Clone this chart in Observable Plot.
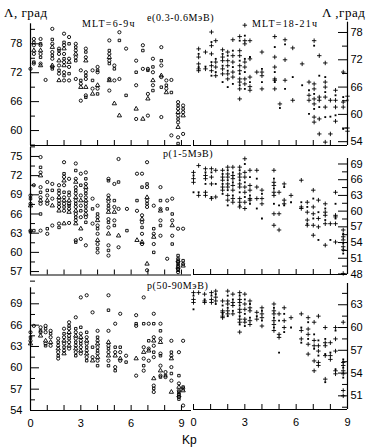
<!DOCTYPE html>
<html><head><meta charset="utf-8">
<script src="https://cdn.jsdelivr.net/npm/d3@7"></script>
<script src="https://cdn.jsdelivr.net/npm/@observablehq/plot@0.6"></script>
<style>
body{margin:0;background:#fff;}
#wrap{position:relative;width:370px;height:448px;overflow:hidden;}
#wrap svg{position:absolute;left:0;top:0;}
.lab{position:absolute;white-space:nowrap;color:#000;line-height:1;font-family:"Liberation Serif","Times New Roman",serif;}
</style></head><body><div id="wrap"></div>
<script>
// ---- data: [Kp, [invariant latitude values, deg]] ----
const eMLT6 = [
 [0,[72.8]],
 [0.2,[79.0,78.3,77.7,76.6,75.9,74.2,73.9]],
 [0.6,[79.0,78.0,77.7,76.6,75.9,75.2,73.9,73.5]],
 [0.9,[70.5]],
 [1.3,[81.1,78.9,78.0,77.3,76.3,75.6,74.9,73.5,73.2,72.8]],
 [1.7,[77.0,76.6,75.9,74.5,73.5,72.5,71.8,70.4]],
 [2.0,[80.1,78.3,77.7,77.0,75.9,74.9,74.2,73.5,72.1,71.4,70.4]],
 [2.3,[79.4,78.0,74.9,74.2,73.2,71.8,70.4]],
 [2.7,[78.0,77.3,76.6,75.9,75.2,74.5,70.7]],
 [3.0,[72.5,70.4,69.7,69.0,66.2]],
 [3.3,[77.0,76.3,75.2,74.5,72.1,71.4,70.7,69.0,67.3,66.9]],
 [3.7,[72.5,70.4,68.7,67.6]],
 [4.0,[73.2,72.5,72.1,69.4,68.7,67.6]],
 [4.7,[78.7,76.6,75.9,75.2,74.5,73.9,70.7,70.4,68.3]],
 [5.0,[73.5,72.8,70.4,65.6]],
 [5.3,[80.4,78.7,70.7,63.1]],
 [5.7,[77.0,67.3]],
 [6.3,[74.5,72.1,69.4,64.5,62.4]],
 [6.7,[77.7,76.6,72.8,62.4]],
 [7.0,[72.8,72.5,67.6,66.6,63.1]],
 [7.3,[74.9,73.2,72.1,70.4,69.4,68.3]],
 [7.8,[77.3,74.5,73.5,71.4,71.1,69.0,62.8]],
 [8.1,[70.4,69.4,68.7,67.9]],
 [8.4,[70.5,67.9,59.0]],
 [8.8,[65.9,65.2,64.5,63.8,63.1,62.4,61.7,60.7,58.6,57.3]],
 [9.1,[65.2,64.5,63.8,63.1,59.3]]
];
const eMLT18 = [
 [0.3,[74.4,73.3,72.6,71.1,70.4,70.0,69.6]],
 [0.7,[73.7,70.5,70.0]],
 [1.05,[78.1,75.9,75.1,73.3,71.5,70.7,69.6,68.5]],
 [1.3,[76.2,72.2,71.5,70.4,69.3,68.5]],
 [1.7,[74.2,73.3,72.6,71.8,70.7,70.0,68.9,67.1]],
 [2.0,[73.7,72.9,71.8,70.7,69.6,68.9,67.8,66.0]],
 [2.3,[76.4,74.0,72.9,71.5,70.4,69.3,68.2,66.7]],
 [2.7,[77.1,76.2,74.0,72.9,71.8,70.7,69.6,68.9,67.8,67.1,66.4,65.6,63.4]],
 [3.0,[79.6,77.3,76.2,75.5,72.2,71.5,70.4,69.3,67.8,66.7,65.6]],
 [3.3,[76.2,72.6,72.2,68.2,67.1,66.1,65.3]],
 [3.7,[69.3]],
 [4.0,[73.7,70.0,69.3,68.5,67.1,65.6]],
 [4.75,[77.1,74.8,72.6,70.4,69.3,67.8,67.5,67.1,65.6]],
 [5.05,[62.3,61.4]],
 [5.35,[76.4,75.4,72.0,67.5,65.6]],
 [5.8,[74.6,68.2,63.1]],
 [6.35,[71.1,66.4]],
 [6.75,[67.1,65.3,64.2,63.1,60.1]],
 [7.05,[76.2,75.1,66.7,65.6,64.5,63.4,62.3,61.2,59.4,58.3]],
 [7.35,[72.9,68.5,63.8,63.1,61.6,59.0,55.7]],
 [7.7,[71.3,68.2,67.1,66.0,64.9,63.8,61.6,59.4,53.9]],
 [8.0,[63.1,59.5,55.7]],
 [8.3,[65.3,64.2,63.1,61.6,59.8,58.5]],
 [8.75,[69.3,63.8,62.7,61.6,56.8]],
 [9.0,[64.0,63.1,57.0,56.3]]
];
const p1MLT6 = [
 [0.0,[68.9,68.4,67.6,67.3,63.4,63.2]],
 [0.2,[70.5,63.4]],
 [0.6,[74.9,73.3,72.5,72.0,70.2,69.4,68.6,68.1,67.6,66.0,63.4]],
 [1.0,[71.0,69.7,68.9,68.1,67.6,63.7,62.9]],
 [1.3,[70.7,69.7,68.4,67.3,64.2]],
 [1.7,[70.5,69.7,69.2,68.6,68.1,67.6,67.1,66.5,64.5,63.9]],
 [2.0,[74.1,72.3,71.8,71.2,70.5,69.4,68.6,68.1,67.6,67.1,66.5,64.5]],
 [2.3,[71.5,69.4,68.9,68.1,67.6,67.3,66.8,66.3,64.6]],
 [2.7,[73.9,72.8,71.5,71.0,70.2,69.7,69.2,68.6,68.1,67.6,67.1,66.5,66.0,65.5,65.0,64.5,61.9,61.6]],
 [3.0,[72.3,70.5,68.9,68.1,67.3,66.5,65.5,63.7,62.1]],
 [3.3,[72.5,71.5,70.7,70.2,69.7,69.2,68.6,68.1,67.6,67.1,66.5,66.0,65.5,64.7,61.1]],
 [3.7,[68.4,66.8,64.5]],
 [4.0,[67.3,66.0,65.5,65.0,64.2,63.7,62.9,61.9,61.3,60.6,60.0]],
 [4.65,[71.5,71.2,68.9,68.4,67.9,67.3,66.8,66.3,65.2,64.7,63.9,62.9,61.1,60.3,59.5]],
 [5.0,[70.7,68.1,67.1,66.3,65.0,64.2]],
 [5.25,[74.6,71.0,66.8,62.6,60.8]],
 [5.75,[66.8,63.4]],
 [6.35,[72.3,68.1,66.5,61.9]],
 [6.65,[72.3,70.2,65.8,65.2,64.7,63.9,62.9,61.6,61.3]],
 [6.95,[74.1,70.7,70.2,68.6,68.1,67.6,67.1,58.2,57.2]],
 [7.35,[67.3,63.7,62.9,62.4,61.3,60.0]],
 [7.75,[70.2,68.1,66.8,66.5,65.0,64.2,62.6]],
 [8.15,[68.1,66.8,59.0]],
 [8.45,[68.4,66.0,65.0,64.2,62.6,61.3]],
 [8.8,[63.7,59.5,59.0,58.7,58.5,58.2,57.9,57.7,57.4,57.2,56.9]],
 [9.1,[63.7,58.7,58.2,57.9]]
];
const p1MLT18 = [
 [0.0,[67.4,66.8,66.2,65.5,63.6]],
 [0.3,[68.7,63.6,63.0]],
 [0.7,[68.1,67.4,66.8,66.2,65.2,63.6,63.0]],
 [1.05,[68.1,67.4,66.5,65.2,62.7,62.4]],
 [1.3,[67.8,65.2,62.7]],
 [1.7,[67.8,67.1,66.5,65.9,65.2,64.6,64.0,63.3]],
 [2.0,[68.4,67.8,67.1,66.5,65.9,65.2,64.6,64.0,63.0,62.1,61.1]],
 [2.3,[68.4,67.4,66.8,66.2,65.5,64.9,64.0,63.0,62.4,61.7]],
 [2.7,[68.4,67.8,67.1,66.5,65.9,65.2,64.6,63.6,62.4,61.7,61.1,60.8]],
 [3.0,[70.0,69.0,67.4,66.5,65.5,64.6,63.6,62.7,61.7,60.5]],
 [3.3,[67.8,66.5,64.9,64.0,63.0,62.4,62.1,61.4]],
 [3.7,[67.8,66.2,64.6,62.4,60.5]],
 [4.0,[64.0,63.3,62.4,61.4,58.6]],
 [4.7,[67.8,66.2,65.5,64.9,64.3,63.6,63.0,61.4,59.5,57.3]],
 [5.0,[63.6,61.1,59.5,56.4]],
 [5.3,[65.2,64.6,62.1,61.4,61.1]],
 [5.7,[63.0,61.7]],
 [6.3,[65.9,61.7,60.8,60.5]],
 [6.65,[61.7,60.8,59.8,58.3,57.6,57.3]],
 [7.0,[64.0,62.4,60.8,59.5,58.6,57.3,55.4]],
 [7.3,[62.1,59.8,58.6,57.0,54.5]],
 [7.7,[61.4,60.5,59.8,59.2,58.3,57.6,53.5]],
 [8.0,[57.6,54.5]],
 [8.3,[63.6,61.4,59.2,58.9,58.6,57.6,54.1]],
 [8.75,[56.4,55.7,55.1,54.5,53.8,53.2,52.6,51.9,48.1]]
];
const p50MLT6 = [
 [0.0,[65.0,64.3,63.8,63.4]],
 [0.2,[65.9]],
 [0.6,[65.7,65.2,65.0,64.5]],
 [0.9,[65.9,65.5,65.0,63.8,63.4,63.1]],
 [1.2,[65.2,64.8,64.3,63.6,63.1]],
 [1.65,[64.1,63.6,63.1,62.7,62.2,61.7,61.3]],
 [2.0,[65.5,64.8,64.3,63.8,63.4,62.9,62.4,62.0]],
 [2.3,[66.4,65.9,65.5,65.0,64.5,64.1,63.6,63.1,62.7]],
 [2.7,[67.1,65.5,65.0,64.5,64.1,63.6,63.1,62.7,62.2,61.7]],
 [3.0,[69.9,65.7,64.8,64.3,63.8,63.4,62.9,62.4,62.0]],
 [3.35,[70.2,65.0,64.3,63.8,63.4,62.9,62.4,62.0,61.5,61.0]],
 [3.7,[67.8,62.9,61.5,61.0]],
 [4.0,[65.2,64.3,63.8,63.4,62.9,62.4,62.0,61.5,61.0,60.3]],
 [4.65,[70.2,68.1,65.2,63.6,63.1,62.7,62.2,61.7,61.0,60.3]],
 [5.05,[66.2,62.9,62.2,61.7,60.1,59.6]],
 [5.35,[67.6,62.9,62.2,61.3,61.0]],
 [5.7,[61.7,60.8]],
 [6.3,[67.4,66.2,65.9,61.3,58.9]],
 [6.75,[69.9,66.2,62.9,62.2,61.3,60.3,59.6]],
 [7.05,[66.2,63.8,62.7,62.4,61.0]],
 [7.35,[67.6,66.2,64.3,63.8,63.1,62.2,61.5,58.5,57.5,57.1,56.6]],
 [7.75,[66.2,65.2,64.1,63.6,62.0,61.7,60.3,59.6,58.9,58.7]],
 [8.05,[59.4,58.9,58.7]],
 [8.4,[63.8,62.2,61.7,61.3,60.1,59.2,58.2,56.6]],
 [8.85,[62.2,58.9,57.8,57.3,56.8,56.6,56.3,56.1,55.9,55.6]],
 [9.1,[63.8,57.3,57.1,56.8,54.7]]
];
const p50MLT18 = [
 [0.0,[64.6,64.2,63.7,63.3,62.4]],
 [0.3,[64.6]],
 [0.65,[64.4,63.7,63.5,63.3]],
 [1.05,[64.6,64.2,63.7,63.3]],
 [1.3,[64.8,64.4,64.0,63.5,63.1]],
 [1.7,[63.5,62.9,62.2,62.0,61.8,61.5,61.3]],
 [2.0,[64.8,64.2,63.5,63.1,62.6,62.2,61.8,61.5]],
 [2.3,[64.4,63.7,63.3,62.9,62.2,61.8]],
 [2.7,[64.6,64.2,63.7,63.3,62.9,62.4,62.0,61.5,61.1,60.7,60.4,59.4]],
 [3.0,[64.4,63.7,63.1,62.4,61.8,61.1,60.7,60.2]],
 [3.3,[63.5,63.1,62.6,62.2,61.3,60.9,60.4]],
 [3.7,[62.0,61.5,61.1]],
 [4.0,[62.6,62.2,61.8,61.3,60.9,60.2]],
 [4.7,[63.1,62.6,62.2,61.8,61.3,60.9,60.4,60.0,59.6]],
 [5.0,[61.8,60.9,59.1,58.7,56.7]],
 [5.3,[62.6,61.8,60.9,60.0,59.4]],
 [5.7,[61.3,60.0]],
 [6.3,[61.8,60.0,59.6,58.5,58.0]],
 [6.7,[61.3,60.7,59.8,59.1,58.5,57.8,56.5]],
 [7.05,[60.7,59.1,58.3,57.6,57.2,55.6,54.3]],
 [7.3,[61.5,58.3,57.6,56.9,56.3,55.4,55.0]],
 [7.7,[60.0,58.5,58.0,57.6,56.5,56.3,53.2,52.8]],
 [8.0,[58.0,56.7,56.3,55.8]],
 [8.3,[60.0,59.6,58.5,56.9,54.5,54.3,53.9]],
 [8.75,[60.7,55.8,55.4,55.0,54.7,54.3,53.9,53.4,51.7,51.0]]
];

// ---- tick values / labels ----
const kpTicks = [0,1,2,3,4,5,6,7,8,9];
const kpLabels = [0,3,6,9];
const eLeftMajor = [60,66,72,78],  eLeftMinor = [57,63,69,75,81];
const eRightMajor = [54,60,66,72,78], eRightMinor = [57,63,69,75];
const p1LeftMajor = [57,60,63,66,69,72,75];
const p1RightMajor = [48,51,54,57,60,63,66,69];
const p50LeftMajor = [54,57,60,63,66,69];
const p50RightMajor = [51,54,57,60,63];
const halfSteps = (a,b) => d3.range(a, b + 0.01, 1.5).filter(v => v % 3 !== 0);

// ---- panel layout ----
const W = 370, H = 448;
const panels = [
 {data:eMLT6,   side:"L", top:23.3, bottom:145, yDomain:[56.9,82.15], major:eLeftMajor,  minor:eLeftMinor,  xlab:false},
 {data:eMLT18,  side:"R", top:21.7, bottom:145, yDomain:[53.16,80.26], major:eRightMajor, minor:eRightMinor, xlab:false},
 {data:p1MLT6,  side:"L", top:147,  bottom:274.5, yDomain:[56.46,76.4], major:p1LeftMajor, minor:halfSteps(55.5,76.5), xlab:false},
 {data:p1MLT18, side:"R", top:158,  bottom:274,   yDomain:[47.9,70.05], major:p1RightMajor, minor:halfSteps(48,70), xlab:false},
 {data:p50MLT6, side:"L", top:287.3, bottom:410,  yDomain:[54,71.25], major:p50LeftMajor, minor:halfSteps(54,71), xlab:true},
 {data:p50MLT18,side:"R", top:283,  bottom:409,   yDomain:[49.2,65.8], major:p50RightMajor, minor:halfSteps(49.5,65.5), xlab:true}
];

const wrap = document.getElementById("wrap");
const leftSyms = ["circle","square","circle","triangle"];
const rightSyms = ["plus","square","plus"];

for (const cfg of panels) {
  const L = cfg.side === "L";
  const xr = L ? [30,191] : [193,347];
  const xd = L ? [0,9.6] : [0,9];
  const fw = xr[1]-xr[0], fh = cfg.bottom - cfg.top;
  const rows = cfg.data.flatMap(([kp, lats]) => lats.map((lat, i) => ({kp, lat, i})));
  const syms = L ? leftSyms : rightSyms;
  const dotMarks = syms.map((s, k) => {
    const sub = rows.filter(d => d.i % syms.length === k);
    if (L) return Plot.dot(sub, {x:"kp", y:"lat", symbol:s, r: s==="triangle"?1.6:(s==="square"?1.4:1.6), stroke:"#000", strokeWidth:0.9, fill:"none"});
    if (s === "plus") return Plot.dot(sub, {x:"kp", y:"lat", symbol:"plus", r:1.55, stroke:"#000", strokeWidth:0.9});
    return Plot.dot(sub, {x:"kp", y:"lat", symbol:"square", r:1.05, fill:"#000", stroke:"none"});
  });
  const plot = Plot.plot({
    width:W, height:H,
    marginLeft:xr[0], marginRight:W-xr[1], marginTop:cfg.top, marginBottom:H-cfg.bottom,
    style:{background:"transparent", overflow:"visible", fontFamily:"'Liberation Sans', Arial, sans-serif", fontSize:"11px", color:"#000"},
    x:{domain:xd, ...(cfg.xlab ? {} : {axis:null})},
    y:{domain:cfg.yDomain},
    marks:[
      Plot.ruleY([cfg.yDomain[0]], {stroke:"#000", strokeWidth:1.2}),
      Plot.ruleX([L ? 0 : 9], {stroke:"#000", strokeWidth:1.2}),
      Plot.tickX(kpTicks, {x:d=>d, insetTop: fh-5, stroke:"#000"}),
      Plot.tickY(cfg.major, {y:d=>d, insetLeft: L?0:fw-9, insetRight: L?fw-9:0, stroke:"#000"}),
      Plot.tickY(cfg.minor, {y:d=>d, insetLeft: L?0:fw-5, insetRight: L?fw-5:0, stroke:"#000"}),
      Plot.axisY({ticks:cfg.major, anchor: L?"left":"right", tickSize:0, tickPadding: L?8:3, label:null, fontSize:11}),
      cfg.xlab ? Plot.axisX({ticks:kpLabels, anchor:"bottom", tickSize:0, tickPadding:9, label:null, fontSize:11}) : null,
      ...dotMarks
    ]
  });
  wrap.appendChild(plot);
}

// ---- text labels ----
const labels = [
 {t:"Λ, град", x:4, y:6, fs:13, ls:0.5},
 {t:"Λ ,град", x:322, y:6, fs:13, ls:0.5},
 {t:"MLT=6-9ч", x:82, y:19, fs:10, ls:1.2},
 {t:"e(0.3-0.6МэВ)", x:147, y:13, fs:10, ls:0.6},
 {t:"MLT=18-21ч", x:252, y:19, fs:10, ls:1.2},
 {t:"p(1-5МэВ)", x:163, y:149, fs:10, ls:0.6},
 {t:"p(50-90МэВ)", x:147, y:281, fs:10, ls:0.6},
 {t:"Kp", x:182, y:434, fs:12, ls:0, sans:true}
];
for (const l of labels) {
  const s = document.createElement("div");
  s.className = "lab";
  s.textContent = l.t;
  s.style.left = l.x + "px"; s.style.top = l.y + "px";
  s.style.fontSize = l.fs + "px"; s.style.letterSpacing = l.ls + "px";
  if (l.sans) s.style.fontFamily = "'Liberation Sans', Arial, sans-serif";
  wrap.appendChild(s);
}
</script></body></html>
